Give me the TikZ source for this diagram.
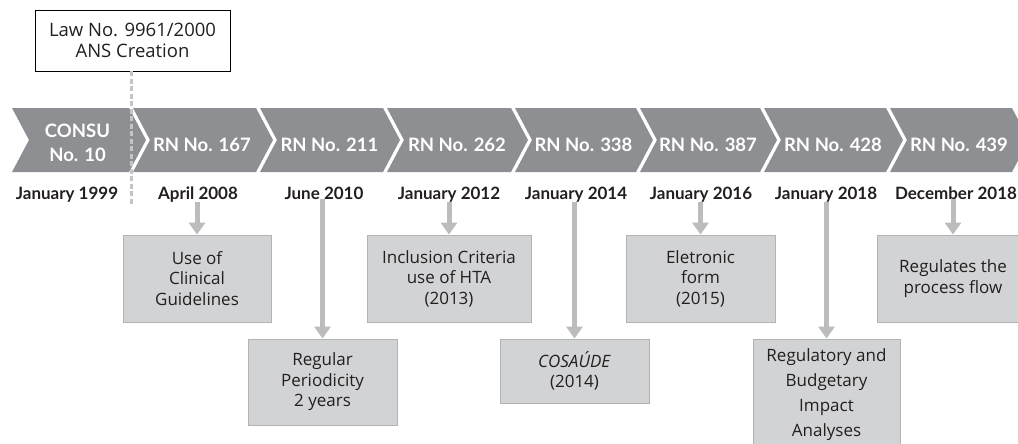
\documentclass[tikz,border=0pt]{standalone}
\usepackage{fontspec}
\setmainfont{Lato}
\newfontfamily\boxfont{Open Sans}
\usetikzlibrary{arrows.meta}
\definecolor{chevc}{HTML}{8E8F93}
\definecolor{inkc}{HTML}{231F20}
\definecolor{boxfill}{HTML}{D2D3D5}
\definecolor{boxline}{HTML}{B2B3B5}
\definecolor{arrc}{HTML}{BBBCBE}
\definecolor{dashc}{HTML}{C4C5C7}
\tikzset{
  chevtext/.style={text=white, font={\bfseries\fontsize{18.5}{24}\selectfont}, align=center, inner sep=0pt},
  datelabel/.style={text=inkc, font={\bfseries\fontsize{17}{19}\selectfont}, inner sep=0pt, anchor=base},
  infobox/.style={draw=boxline, line width=0.8pt, fill=boxfill, text=inkc, align=center, inner sep=0pt,
    font={\boxfont\fontsize{17}{20.5}\selectfont}},
  lawbox/.style={draw=black, line width=0.8pt, fill=white, text=inkc, align=center, inner sep=0pt,
    minimum width=195pt, minimum height=61pt, font={\boxfont\fontsize{18.5}{20.5}\selectfont}},
  arr/.style={draw=arrc, line width=5pt, -{Triangle[width=16pt,length=12pt]}},
  dashline/.style={draw=dashc, line width=3pt, dash pattern=on 5pt off 2.5pt}
}
\begin{document}
\begin{tikzpicture}[x=1pt,y=-1pt]
\useasboundingbox (0,0) rectangle (1018,444);
\clip (0,0) rectangle (1018,444);
% chevrons
\foreach \l/\r in {12/129,133/256,260/383,387/511,515/636,640/760,764/886,890/1012}{
  \fill[chevc] (\l,108) -- (\r,108) -- (\r+17,140) -- (\r,172) -- (\l,172) -- (\l+17,140) -- cycle;
}
% chevron texts
\node[chevtext] (c0) at (77.5,142.5) {CONSU\\No. 10};
\node[chevtext, anchor=base] (c1) at (202,151) {RN No. 167};
\node[chevtext, anchor=base] (c2) at (329.5,151) {RN No. 211};
\node[chevtext, anchor=base] (c3) at (457,151) {RN No. 262};
\node[chevtext, anchor=base] (c4) at (583.5,151) {RN No. 338};
\node[chevtext, anchor=base] (c5) at (708,151) {RN No. 387};
\node[chevtext, anchor=base] (c6) at (833,151) {RN No. 428};
\node[chevtext, anchor=base] (c7) at (959,151) {RN No. 439};
% date labels
\node[datelabel] (d0) at (67,199) {January 1999};
\node[datelabel] (d1) at (198,199) {April 2008};
\node[datelabel] (d2) at (324,199) {June 2010};
\node[datelabel] (d3) at (449,199) {January 2012};
\node[datelabel] (d4) at (576,199) {January 2014};
\node[datelabel] (d5) at (701,199) {January 2016};
\node[datelabel] (d6) at (826,199) {January 2018};
\node[datelabel] (d7) at (956,199) {December 2018};
% law box and dashed line
\node[lawbox] (law) at (132.5,40.5) {Law No. 9961/2000\\ANS Creation};
\coordinate (dashend) at (131,205);
\draw[dashline] (law.south -| dashend) -- (dashend);
% info boxes
\node[infobox, minimum width=148pt, minimum height=87pt] (b1) at (197,278.5) {Use of\\Clinical\\Guidelines};
\node[infobox, minimum width=149pt, minimum height=86pt] (b2) at (322.5,382) {Regular\\Periodicity\\2 years};
\node[infobox, minimum width=164pt, minimum height=87pt] (b3) at (449,278.5) {Inclusion Criteria\\use of HTA\\(2013)};
\node[infobox, minimum width=149pt, minimum height=64pt] (b4) at (574.5,371) {\textit{COSAÚDE}\\(2014)};
\node[infobox, minimum width=149pt, minimum height=87pt] (b5) at (700.5,278.5) {Eletronic\\form\\(2015)};
\node[infobox, minimum width=147pt, minimum height=112pt, font={\boxfont\fontsize{17}{25}\selectfont}] (b6) at (826.5,395) {Regulatory and\\Budgetary\\Impact\\Analyses};
\node[infobox, minimum width=152pt, minimum height=87pt] (b7) at (953,278.5) {Regulates the\\process flow};
% arrows
\draw[arr] (b1.north |- d1.south) -- (b1.north);
\draw[arr] (b2.north |- d2.south) -- (b2.north);
\draw[arr] (b3.north |- d3.south) -- (b3.north);
\draw[arr] (b4.north |- d4.south) -- (b4.north);
\draw[arr] (b5.north |- d5.south) -- (b5.north);
\draw[arr] (b6.north |- d6.south) -- (b6.north);
\draw[arr] (b7.north |- d7.south) -- (b7.north);
\end{tikzpicture}
\end{document}
